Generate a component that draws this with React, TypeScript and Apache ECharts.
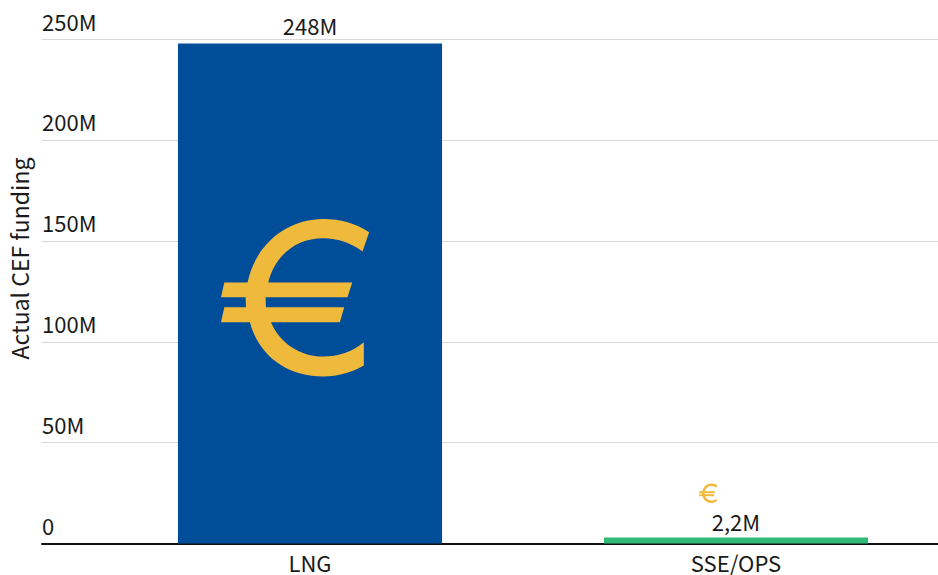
import React, { useEffect, useRef } from "react";
import * as echarts from "echarts";

const categories = ["LNG", "SSE/OPS"];
const fundingMillions = [248, 2.2];
const valueLabels = ["248M", "2,2M"];
const barColors = ["#004d99", "#2fbb74"];
const yTicks: Record<number, string> = { 0: "0", 50: "50M", 100: "100M", 150: "150M", 200: "200M", 250: "250M" };
const yAxisTitle = "Actual CEF funding";

const FONT = '"Noto Sans CJK SC", "Noto Sans", sans-serif';
const TEXT = "#1a1a1a";
const EURO_PATH =
  "M508 97L488 155C455 130 415 115 370 115C290 115 225 165 205 248L457 248L443 292L197 292L198 322L433 322L420 367L213 367C240 430 300 470 370 470C415 470 458 455 492 427L492 497C455 518 415 530 370 530C260 530 175 465 150 367L63 367L73 322L138 322L137 292L63 292L73 248L143 248C165 135 260 57 370 57C420 57 470 70 508 97Z";

echarts.graphic.registerShape("euro", echarts.graphic.extendPath(EURO_PATH, {}) as any);

export default function App() {
  const ref = useRef<HTMLDivElement>(null);
  useEffect(() => {
    document.body.style.margin = "0";
    const chart = echarts.init(ref.current!, undefined, { renderer: "svg" });
    chart.setOption({
      animation: false,
      backgroundColor: "#ffffff",
      grid: [
        { left: 42, top: 39.5, width: 896, height: 504, outerBoundsMode: "none" },
        { left: 97, top: 39.5, width: 852, height: 504, outerBoundsMode: "none" },
      ],
      xAxis: [
        {
          gridIndex: 0,
          type: "value",
          min: 0,
          max: 1,
          axisLabel: { show: false },
          axisTick: { show: false },
          splitLine: { show: false },
          axisLine: { show: true, onZero: false, lineStyle: { color: "#111111", width: 2 } },
        },
        {
          gridIndex: 1,
          type: "category",
          data: categories,
          axisLine: { show: false },
          axisTick: { show: false },
          axisLabel: { fontFamily: FONT, fontSize: 22, lineHeight: 22, color: TEXT, margin: 7 },
        },
      ],
      yAxis: [
        {
          gridIndex: 0,
          type: "value",
          min: 0,
          max: 250,
          interval: 50,
          name: yAxisTitle,
          nameLocation: "middle",
          nameGap: 12,
          nameTextStyle: { fontFamily: FONT, fontSize: 23, color: TEXT, padding: [0, 0, 0, 66] },
          axisLine: { show: false },
          axisTick: { show: false },
          splitLine: { show: true, lineStyle: { color: "#d9d9d9", width: 1 } },
          axisLabel: {
            inside: true,
            margin: 0,
            align: "left",
            verticalAlign: "bottom",
            padding: [0, 0, 8, 0],
            fontFamily: FONT,
            fontSize: 22,
            color: TEXT,
            formatter: (v: number) => yTicks[v],
          },
        },
        { gridIndex: 1, type: "value", min: 0, max: 250, show: false },
      ],
      series: [
        {
          type: "bar",
          xAxisIndex: 1,
          yAxisIndex: 1,
          barWidth: "62%",
          barMinHeight: 6,
          data: fundingMillions.map((v, i) => ({
            value: v,
            itemStyle: { color: barColors[i] },
            label: { distance: i === 0 ? 7.5 : 5.5 },
          })),
          label: {
            show: true,
            position: "top",
            fontFamily: FONT,
            fontSize: 22,
            color: TEXT,
            formatter: (p: any) => valueLabels[p.dataIndex],
          },
        },
      ],
      graphic: [
        {
          type: "euro",
          x: 200,
          y: 200,
          scaleX: 1 / 3,
          scaleY: 1 / 3,
          z: 10,
          style: { fill: "#efb93b" },
        },
        {
          type: "euro",
          x: 699 - 63 * 0.041,
          y: 483.5 - 57 * 0.041,
          scaleX: 0.041,
          scaleY: 0.041,
          z: 10,
          style: { fill: "#efb93b" },
        },
      ],
    });
    return () => chart.dispose();
  }, []);
  return <div ref={ref} style={{ width: 938, height: 575 }} />;
}
